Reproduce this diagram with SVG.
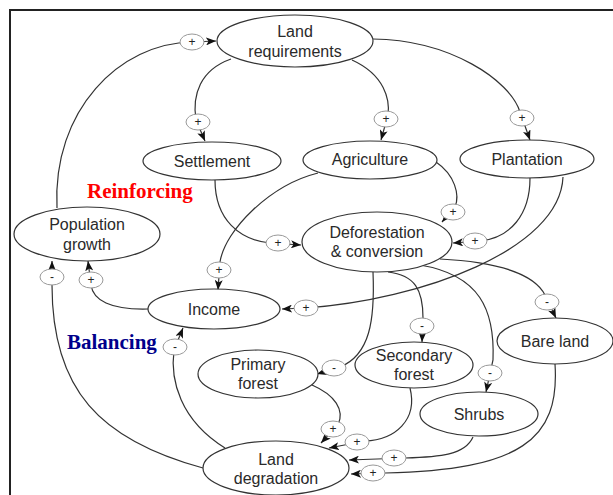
<svg xmlns="http://www.w3.org/2000/svg" width="613" height="495" viewBox="0 0 613 495">
<style>
.node ellipse{fill:#fff;stroke:#333;stroke-width:1.2}
.node text{font-family:"Liberation Sans",Arial,sans-serif;font-size:16px;fill:#2a2a2a;text-anchor:middle}
.edge{fill:none;stroke:#333;stroke-width:1.2;marker-end:url(#arr)}
.pol ellipse{fill:#fff;stroke:#999;stroke-width:1}
.pol text{font-family:"Liberation Sans",Arial,sans-serif;font-size:12px;fill:#222;text-anchor:middle}
.loop{font-family:"Liberation Serif","Times New Roman",serif;font-size:21px;font-weight:bold}
</style>
<defs>
<marker id="arr" markerUnits="userSpaceOnUse" markerWidth="10" markerHeight="8" refX="10" refY="4" orient="auto">
<path d="M0,0 L10,4 L0,8 L2.5,4 z" fill="#111"/>
</marker>
</defs>
<rect width="613" height="495" fill="#fff"/>
<g id="frame" fill="none" stroke="#222" stroke-width="2">
<path d="M10,495 L10,10 L613,10"/>
</g>
<g id="connectors">
<path class="edge" d="M57,208 C52,110 120,43 192,42 L216,41"/>
<path class="edge" d="M231,59 C200,70 192,95 196,120 L205,141"/>
<path class="edge" d="M352,60 C385,75 390,100 388,115 L381,140"/>
<path class="edge" d="M373,39 C450,40 510,80 520,112 L530,140"/>
<path class="edge" d="M436,162 C455,175 460,195 455,207 L442,222"/>
<path class="edge" d="M530,178 C530,215 510,238 480,241 L453,243"/>
<path class="edge" d="M563,177 C560,250 420,300 306,308 L282,309"/>
<path class="edge" d="M215,180 C215,220 240,240 270,243 L301,245"/>
<path class="edge" d="M318,173 C270,185 225,230 220,262 L218,290"/>
<path class="edge" d="M148,309 C110,310 93,300 91,285 L88,261"/>
<path class="edge" d="M203,468 C100,440 52,390 52,285 L52,261"/>
<path class="edge" d="M225,448 C180,420 170,380 174,350 L183,328"/>
<path class="edge" d="M373,272 C375,320 370,355 340,367 L317,374"/>
<path class="edge" d="M388,272 C415,275 423,290 423,318 L422,342"/>
<path class="edge" d="M420,265 C480,275 495,310 493,360 L486,392"/>
<path class="edge" d="M440,259 C500,262 535,275 545,295 L556,318"/>
<path class="edge" d="M312,385 C335,395 345,410 338,425 L321,443"/>
<path class="edge" d="M410,388 C418,420 395,440 365,441 L329,448"/>
<path class="edge" d="M473,437 C465,455 440,457 405,458 L349,460"/>
<path class="edge" d="M555,364 C560,440 520,470 385,473 L351,474"/>
</g>
<g id="land-requirements" class="node"><ellipse cx="295" cy="41" rx="78" ry="26"/><text x="295" y="37">Land</text><text x="295" y="57">requirements</text></g>
<g id="settlement" class="node"><ellipse cx="212" cy="161" rx="69" ry="19"/><text x="212" y="167">Settlement</text></g>
<g id="agriculture" class="node"><ellipse cx="370" cy="160" rx="67" ry="19"/><text x="370" y="165">Agriculture</text></g>
<g id="plantation" class="node"><ellipse cx="527" cy="159" rx="67" ry="19"/><text x="527" y="165">Plantation</text></g>
<g id="deforestation" class="node"><ellipse cx="377" cy="242" rx="75" ry="30"/><text x="377" y="238">Deforestation</text><text x="377" y="257">&amp; conversion</text></g>
<g id="population-growth" class="node"><ellipse cx="87" cy="234" rx="73" ry="27"/><text x="87" y="230">Population</text><text x="87" y="250">growth</text></g>
<g id="income" class="node"><ellipse cx="214" cy="309" rx="66" ry="20"/><text x="214" y="315">Income</text></g>
<g id="primary-forest" class="node"><ellipse cx="258" cy="374" rx="60" ry="24"/><text x="258" y="370">Primary</text><text x="258" y="389">forest</text></g>
<g id="secondary-forest" class="node"><ellipse cx="414" cy="365" rx="59" ry="23"/><text x="414" y="361">Secondary</text><text x="414" y="380">forest</text></g>
<g id="bare-land" class="node"><ellipse cx="555" cy="341" rx="58" ry="23"/><text x="555" y="347">Bare land</text></g>
<g id="shrubs" class="node"><ellipse cx="479" cy="414" rx="59" ry="22"/><text x="479" y="420">Shrubs</text></g>
<g id="land-degradation" class="node"><ellipse cx="276" cy="468" rx="73" ry="27"/><text x="276" y="465">Land</text><text x="276" y="484">degradation</text></g>
<g id="polarities">
<g class="pol"><ellipse cx="192" cy="42" rx="12" ry="8"/><text x="192" y="46">+</text></g>
<g class="pol"><ellipse cx="198" cy="122" rx="12" ry="8"/><text x="198" y="126">+</text></g>
<g class="pol"><ellipse cx="386" cy="119" rx="12" ry="8"/><text x="386" y="123">+</text></g>
<g class="pol"><ellipse cx="522" cy="118" rx="12" ry="8"/><text x="522" y="122">+</text></g>
<g class="pol"><ellipse cx="453" cy="212" rx="12" ry="8"/><text x="453" y="216">+</text></g>
<g class="pol"><ellipse cx="475" cy="241" rx="12" ry="8"/><text x="475" y="245">+</text></g>
<g class="pol"><ellipse cx="278" cy="243" rx="12" ry="8"/><text x="278" y="247">+</text></g>
<g class="pol"><ellipse cx="219" cy="270" rx="12" ry="8"/><text x="219" y="274">+</text></g>
<g class="pol"><ellipse cx="306" cy="308" rx="12" ry="8"/><text x="306" y="312">+</text></g>
<g class="pol"><ellipse cx="91" cy="280" rx="12" ry="8"/><text x="91" y="284">+</text></g>
<g class="pol"><ellipse cx="52" cy="277" rx="12" ry="8"/><text x="52" y="281">-</text></g>
<g class="pol"><ellipse cx="175" cy="347" rx="12" ry="8"/><text x="175" y="351">-</text></g>
<g class="pol"><ellipse cx="334" cy="368" rx="12" ry="8"/><text x="334" y="372">-</text></g>
<g class="pol"><ellipse cx="422" cy="326" rx="12" ry="8"/><text x="422" y="330">-</text></g>
<g class="pol"><ellipse cx="490" cy="373" rx="12" ry="8"/><text x="490" y="377">-</text></g>
<g class="pol"><ellipse cx="547" cy="302" rx="12" ry="8"/><text x="547" y="306">-</text></g>
<g class="pol"><ellipse cx="333" cy="429" rx="12" ry="8"/><text x="333" y="433">+</text></g>
<g class="pol"><ellipse cx="357" cy="442" rx="12" ry="8"/><text x="357" y="446">+</text></g>
<g class="pol"><ellipse cx="394" cy="458" rx="12" ry="8"/><text x="394" y="462">+</text></g>
<g class="pol"><ellipse cx="373" cy="473" rx="12" ry="8"/><text x="373" y="477">+</text></g>
</g>
<text class="loop" x="87" y="198" fill="#ff0000">Reinforcing</text>
<text class="loop" x="67" y="349" fill="#00008b">Balancing</text>
</svg>
